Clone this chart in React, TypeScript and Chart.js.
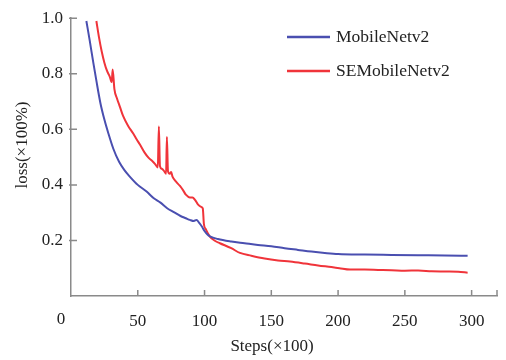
import React, { useEffect, useRef } from "react";
import { Chart, registerables } from "chart.js";

Chart.register(...registerables);

const SERIES_NAMES = ["MobileNetv2", "SEMobileNetv2"];
const X_TITLE = "Steps(×100)";
const Y_TITLE = "loss(×100%)";
const ORIGIN_LABEL = "0";
const X_TICKS = [0, 50, 100, 150, 200, 250, 300];
const Y_TICKS = [0, 0.2, 0.4, 0.6, 0.8, 1.0];
const X_MAX = 319;

const BLUE_STEPS = [11.5, 14, 16.7, 19, 22, 25, 28, 31.7, 36, 40, 44, 50, 56.6, 62, 67, 72, 77, 82, 86, 89, 92, 94, 96, 98, 100, 102, 104, 110, 120, 130, 140, 150, 160, 170, 180, 190, 200, 220, 240, 260, 280, 297];
const BLUE_LOSS = [0.99, 0.92, 0.84, 0.775, 0.695, 0.635, 0.585, 0.53, 0.483, 0.453, 0.43, 0.4, 0.376, 0.352, 0.336, 0.316, 0.302, 0.288, 0.28, 0.274, 0.27, 0.274, 0.263, 0.25, 0.234, 0.222, 0.215, 0.205, 0.196, 0.19, 0.184, 0.179, 0.172, 0.166, 0.16, 0.155, 0.151, 0.149, 0.148, 0.147, 0.146, 0.145];

const RED_STEPS = [19, 21, 23, 25, 27, 29, 30.5, 31.2, 32.5, 34.5, 36.7, 39, 42.7, 46.6, 49, 51.6, 55, 58, 61, 63, 65, 65.8, 66.6, 68, 70, 71.2, 71.8, 72.6, 74, 75, 76, 78, 81.6, 84, 86, 89, 91, 93, 95, 97.8, 98.7, 99.5, 101, 104, 108, 111.5, 120, 126.5, 135, 145, 155, 164, 175, 185, 195, 201, 209, 220, 230, 240, 250, 260, 270, 280, 290, 297];
const RED_LOSS = [0.99, 0.93, 0.88, 0.84, 0.81, 0.79, 0.77, 0.815, 0.745, 0.71, 0.68, 0.648, 0.613, 0.585, 0.565, 0.545, 0.517, 0.498, 0.485, 0.475, 0.463, 0.61, 0.468, 0.458, 0.448, 0.44, 0.572, 0.45, 0.44, 0.446, 0.43, 0.415, 0.396, 0.38, 0.365, 0.355, 0.355, 0.345, 0.33, 0.32, 0.315, 0.26, 0.24, 0.214, 0.198, 0.19, 0.172, 0.155, 0.145, 0.135, 0.128, 0.124, 0.117, 0.11, 0.104, 0.1, 0.095, 0.095, 0.094, 0.093, 0.091, 0.092, 0.089, 0.088, 0.087, 0.084];

const BLUE = "#4a4fb0";
const RED = "#f0343a";
const AXIS = "#8a8a8a";
const TEXT = "#222";
const FONT = "'Liberation Serif', 'Times New Roman', serif";

const decor = {
  id: "decor",
  afterDraw(chart: any) {
    const ctx = chart.ctx as CanvasRenderingContext2D;
    const xs = chart.scales.x;
    const ys = chart.scales.y;
    const { left, bottom } = chart.chartArea;
    ctx.save();
    ctx.strokeStyle = AXIS;
    ctx.lineWidth = 1.5;
    ctx.beginPath();
    [...X_TICKS.filter((v) => v !== 0), X_MAX].forEach((v) => {
      const px = xs.getPixelForValue(v);
      ctx.moveTo(px, bottom);
      ctx.lineTo(px, bottom - 6);
    });
    Y_TICKS.filter((v) => v !== 0).forEach((v) => {
      const py = ys.getPixelForValue(v);
      ctx.moveTo(left - 2, py);
      ctx.lineTo(left + 6, py);
    });
    ctx.stroke();

    ctx.fillStyle = TEXT;
    ctx.font = `17px ${FONT}`;
    ctx.textAlign = "center";
    ctx.textBaseline = "middle";
    ctx.fillText(ORIGIN_LABEL, 61, 320);

    ctx.font = `17px ${FONT}`;
    ctx.fillText(X_TITLE, 272, 347);
    ctx.save();
    ctx.translate(23, 145);
    ctx.rotate(-Math.PI / 2);
    ctx.fillText(Y_TITLE, 0, 0);
    ctx.restore();

    // legend
    const colors = [BLUE, RED];
    const ly = [37, 71];
    ctx.font = `17.5px ${FONT}`;
    ctx.textAlign = "left";
    SERIES_NAMES.forEach((name, i) => {
      ctx.strokeStyle = colors[i];
      ctx.lineWidth = 2.5;
      ctx.beginPath();
      ctx.moveTo(287, ly[i]);
      ctx.lineTo(330, ly[i]);
      ctx.stroke();
      ctx.fillStyle = TEXT;
      ctx.fillText(name, 336, ly[i]);
    });
    ctx.restore();
  },
};

export default function App() {
  const ref = useRef<HTMLCanvasElement | null>(null);
  useEffect(() => {
    if (!ref.current) return;
    const chart = new Chart(ref.current, {
      type: "line",
      data: {
        datasets: [
          {
            label: SERIES_NAMES[0],
            data: BLUE_STEPS.map((x, i) => ({ x, y: BLUE_LOSS[i] })),
            borderColor: BLUE,
            borderWidth: 2,
            pointRadius: 0,
            cubicInterpolationMode: "monotone",
          },
          {
            label: SERIES_NAMES[1],
            data: RED_STEPS.map((x, i) => ({ x, y: RED_LOSS[i] })),
            borderColor: RED,
            borderWidth: 2,
            pointRadius: 0,
            cubicInterpolationMode: "monotone",
          },
        ],
      },
      options: {
        responsive: false,
        animation: false,
        layout: { padding: { top: 12, right: 9, left: 0, bottom: 0 } },
        plugins: { legend: { display: false }, tooltip: { enabled: false } },
        scales: {
          x: {
            type: "linear",
            min: 0,
            max: X_MAX,
            afterBuildTicks: (s: any) => {
              s.ticks = X_TICKS.map((v) => ({ value: v }));
            },
            afterFit: (s: any) => {
              s.height = 64;
            },
            ticks: {
              callback: (v: any) => (v === 0 ? "" : String(v)),
              color: TEXT,
              font: { family: FONT, size: 17 },
              padding: 15,
              maxRotation: 0,
            },
            grid: { display: true, drawOnChartArea: false, drawTicks: false },
            border: { color: AXIS, width: 1.5 },
          },
          y: {
            min: 0,
            max: 1.0,
            afterBuildTicks: (s: any) => {
              s.ticks = Y_TICKS.map((v) => ({ value: v }));
            },
            afterFit: (s: any) => {
              s.width = 71;
            },
            ticks: {
              callback: (v: any) => (v === 0 ? "" : Number(v).toFixed(1)),
              color: TEXT,
              font: { family: FONT, size: 17 },
              padding: 8,
            },
            grid: { display: true, drawOnChartArea: false, drawTicks: false },
            border: { color: AXIS, width: 1.5 },
          },
        },
      },
      plugins: [decor],
    });
    return () => chart.destroy();
  }, []);
  return (
    <div style={{ position: "fixed", left: 0, top: 0, width: 506, height: 360, background: "#fff" }}>
      <canvas ref={ref} width={506} height={360} />
    </div>
  );
}
